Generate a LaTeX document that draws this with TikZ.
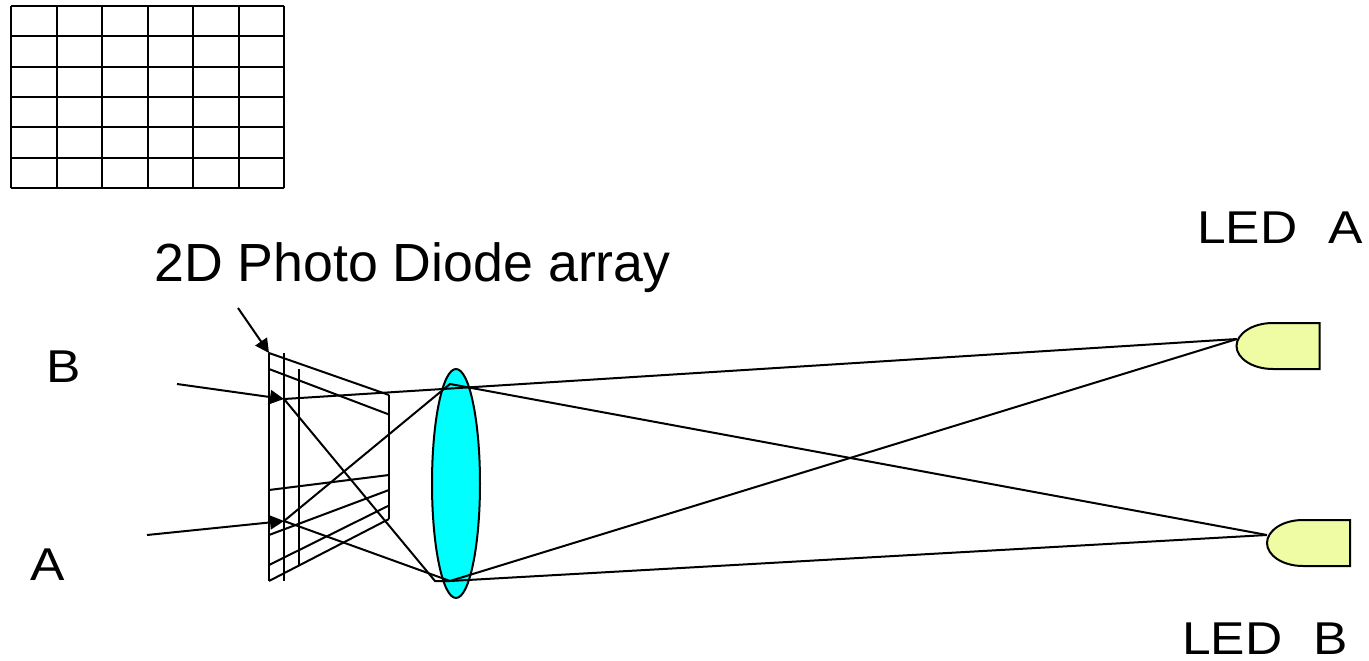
\documentclass[tikz,border=0pt]{standalone}
\usepackage{fontspec}
\usetikzlibrary{shapes.geometric,arrows.meta}
\setmainfont{Liberation Sans}
\newfontfamily\widefont[FakeStretch=1.12]{Liberation Sans}
\definecolor{ledfill}{RGB}{240,252,163}
\definecolor{lensfill}{RGB}{0,255,255}
\begin{document}
\begin{tikzpicture}[x=1pt,y=-1pt,
  ln/.style={line width=2pt,black,line cap=butt},
  gridline/.style={line width=2pt,black},
  arw/.style={ln,-{Triangle[length=14pt,width=14pt]}},
  wide/.style={font=\widefont\fontsize{46}{50}\selectfont,inner sep=0pt,anchor=base west,text=black},
  plain/.style={font=\fontsize{53.7}{58}\selectfont,inner sep=0pt,anchor=base west,text=black},
  led/.style={draw=black,line width=2pt,fill=ledfill,line join=miter},
]
\useasboundingbox (0,0) rectangle (1369,661);
% grid
\foreach \i in {0,...,6}{
  \draw[gridline] ({11+45.5*\i},6) -- ({11+45.5*\i},188);
  \draw[gridline] (11,{6+30.33*\i}) -- (284,{6+30.33*\i});
}
% lens
\node[draw=black,line width=2pt,fill=lensfill,ellipse,minimum width=48pt,minimum height=229pt,inner sep=0pt] (lens) at (456,483.5) {};
% coordinates
\coordinate (pa) at (269,353);
\coordinate (pb) at (269,581);
\coordinate (qa) at (284,353);
\coordinate (qb) at (284,581);
\coordinate (ra) at (299,369);
\coordinate (rb) at (299,565);
\coordinate (sa) at (389,395);
\coordinate (sb) at (389,519);
\coordinate (l1) at (269,369);
\coordinate (l1e) at (389,414.5);
\coordinate (l2) at (269,490);
\coordinate (l2e) at (389,475);
\coordinate (l3) at (269,535);
\coordinate (l3e) at (389,490);
\coordinate (l4) at (269,565);
\coordinate (l4e) at (389,505.5);
% panels
\draw[ln] (pa) -- (pb);
\draw[ln] (qa) -- (qb);
\draw[ln] (ra) -- (rb);
\draw[ln] (sa) -- (sb);
\draw[ln] (pa) -- (sa);
\draw[ln] (pb) -- (sb);
\draw[ln] (l1) -- (l1e);
\draw[ln] (l2) -- (l2e);
\draw[ln] (l3) -- (l3e);
\draw[ln] (l4) -- (l4e);
% LEDs
\draw[led] (1319.5,323) -- (1273,323) .. controls (1252,323) and (1236.5,334) .. (1236.5,346) .. controls (1236.5,358) and (1252,369) .. (1273,369) -- (1319.5,369) -- cycle;
\draw[led] (1350,520) -- (1303,520) .. controls (1282,520) and (1267,531) .. (1267,543) .. controls (1267,555) and (1282,566) .. (1303,566) -- (1350,566) -- cycle;
\coordinate (ledA) at (1237,339);
\coordinate (ledB) at (1267,535);
\coordinate (fb) at (284,399);
\coordinate (fa) at (284,521);
\coordinate (top1) at (450,384);
\coordinate (bot1) at (450,581);
\coordinate (bot0) at (435,581);
% rays
\draw[ln] (fb) -- (ledA);
\draw[ln] (fb) -- (bot0) -- (bot1) -- (ledB);
\draw[ln] (fa) -- (top1) -- (ledB);
\draw[ln] (fa) -- (bot1) -- (ledA);
% arrows
\coordinate (s1) at (238,308);
\coordinate (s2) at (177,384);
\coordinate (s3) at (147,535);
\draw[arw] (s1) -- (pa);
\draw[arw] (s2) -- (fb);
\draw[arw] (s3) -- (fa);
% texts
\node[plain] (title) at (154,281.5) {2D Photo Diode array};
\node[wide] (ta) at (1197,243) {LED\hspace{0.37em} A};
\node[wide] (tb) at (1182,654) {LED\hspace{0.37em} B};
\node[wide] (b) at (46,382.5) {B};
\node[wide] (a) at (30,580) {A};
\end{tikzpicture}
\end{document}
